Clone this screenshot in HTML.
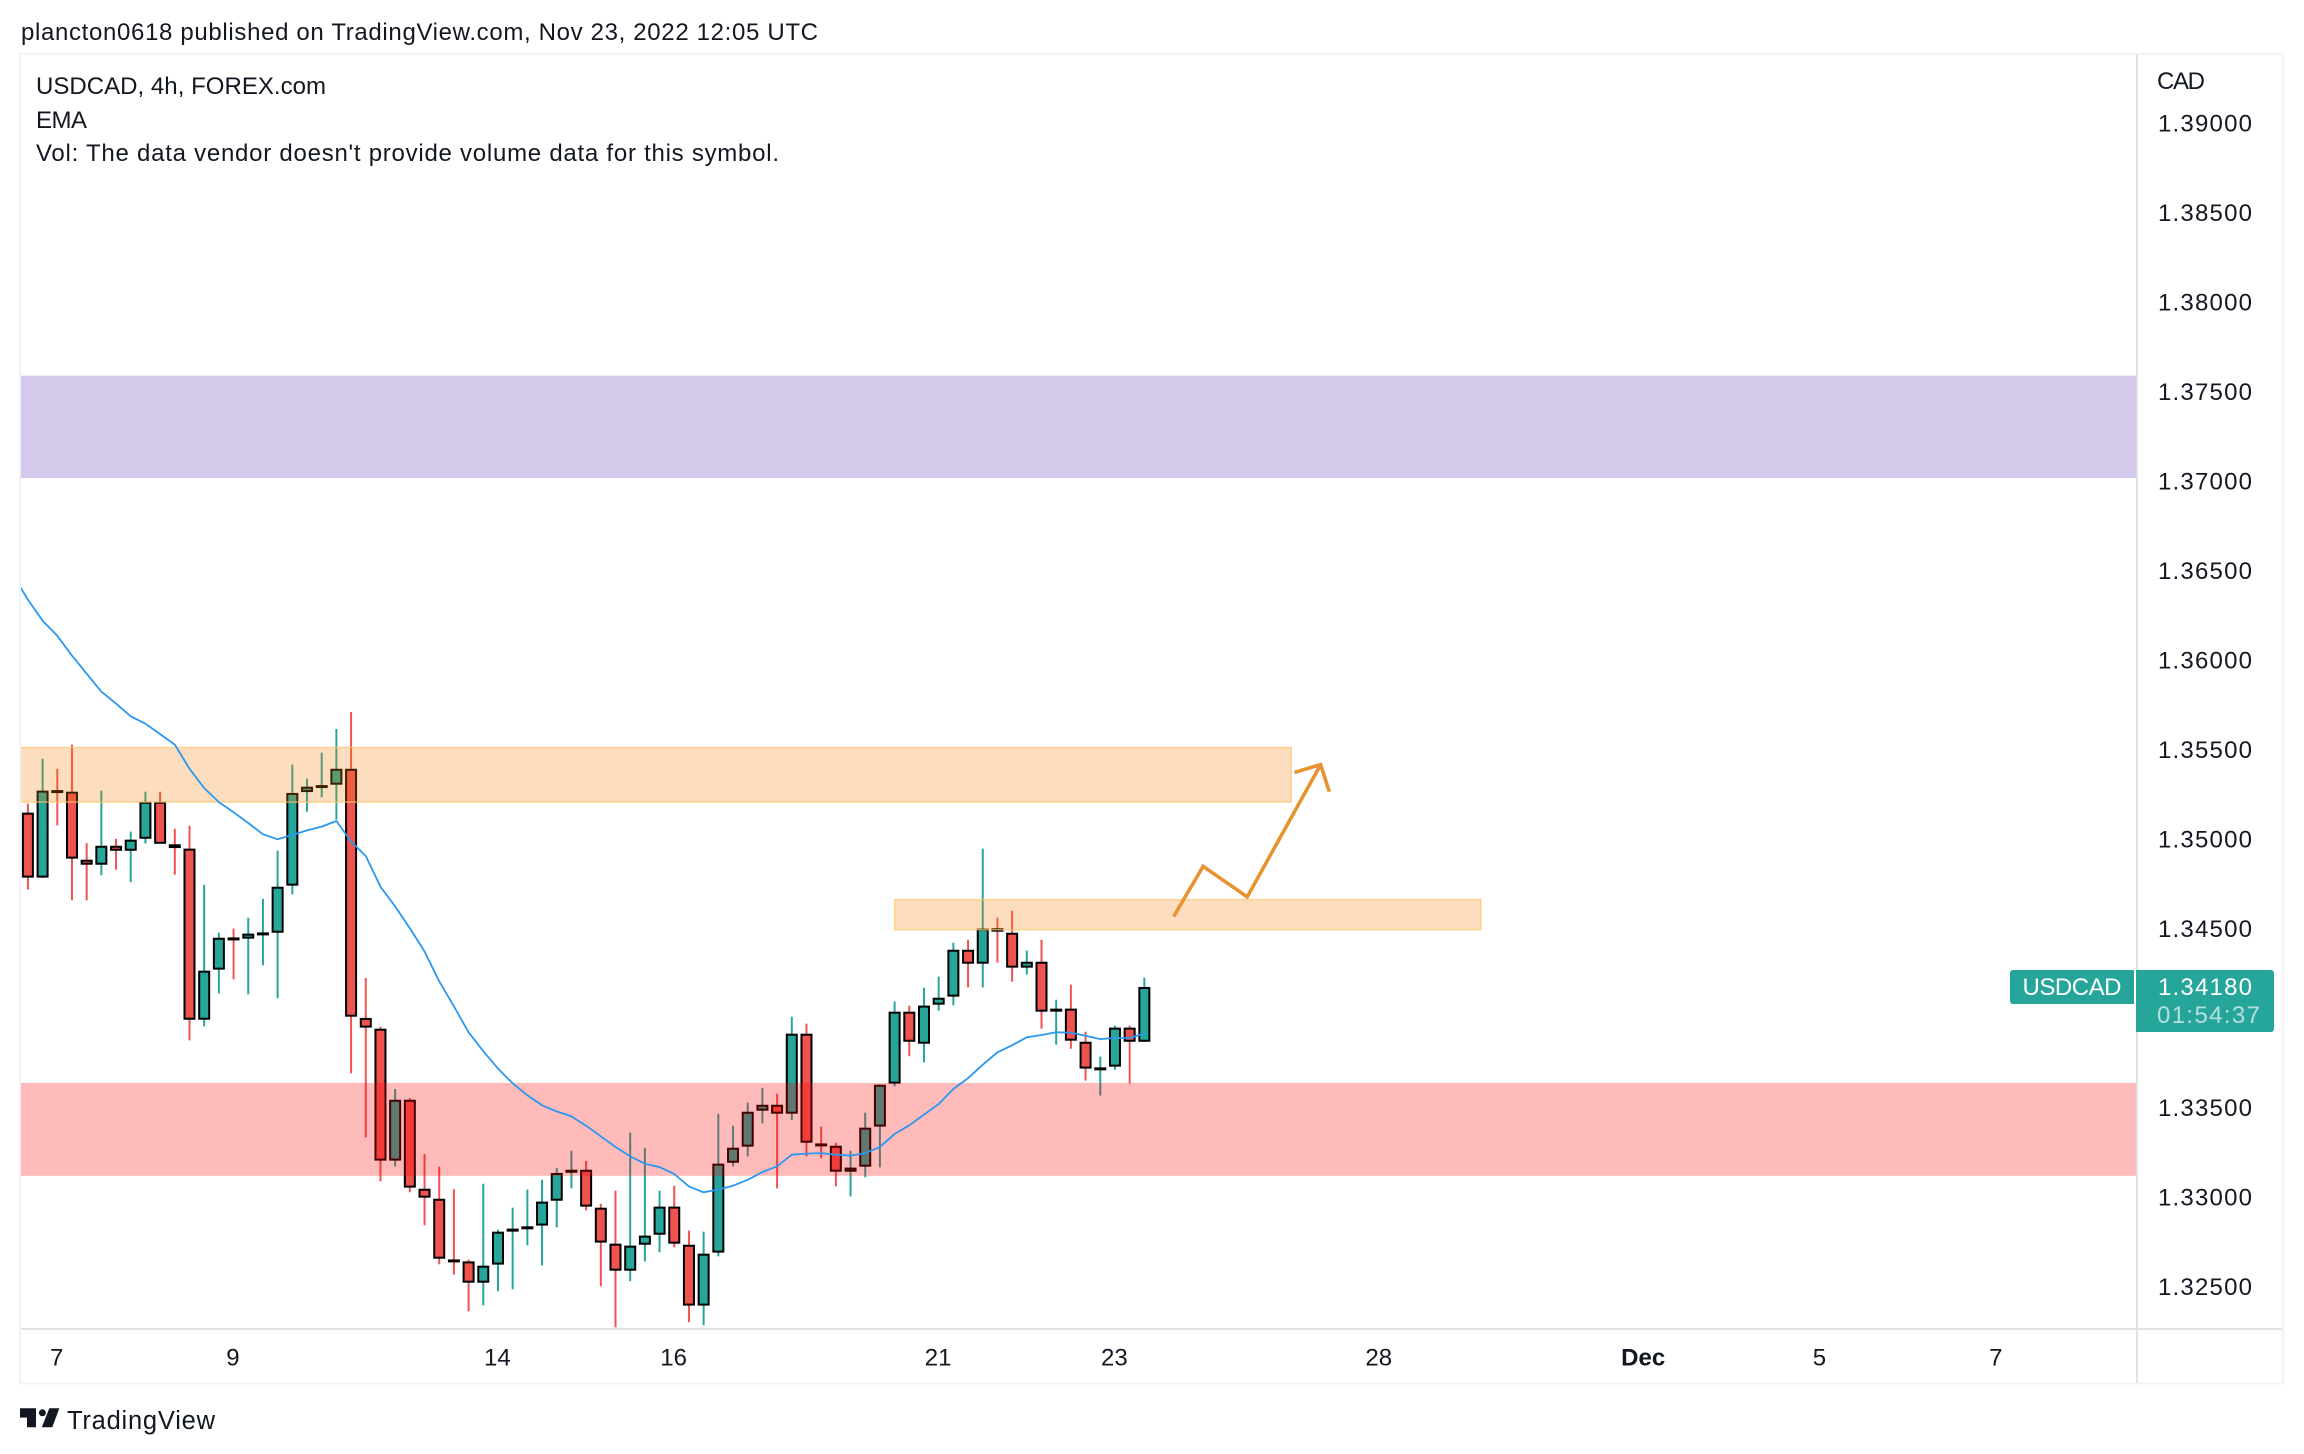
<!DOCTYPE html>
<html lang="en">
<head>
<meta charset="utf-8">
<title>USDCAD 4h chart</title>
<style>
html,body{margin:0;padding:0;background:#fff;width:2304px;height:1454px;overflow:hidden}
svg{display:block;font-family:"Liberation Sans",sans-serif}
</style>
</head>
<body>
<svg id="chart" xmlns="http://www.w3.org/2000/svg" width="2304" height="1454" viewBox="0 0 2304 1454">
  <defs><clipPath id="pane"><rect x="21" y="55" width="2115" height="1273"/></clipPath></defs>
  <rect x="0" y="0" width="2304" height="1454" fill="#ffffff"/>
  <text x="21" y="40" font-size="24" fill="#131722" textLength="797" lengthAdjust="spacing">plancton0618 published on TradingView.com, Nov 23, 2022 12:05 UTC</text>
  <rect x="20" y="54" width="2263" height="1329.5" fill="none" stroke="#f0f3fa" stroke-width="2"/>
  <g id="candles" clip-path="url(#pane)"></g>
  <g id="zones" clip-path="url(#pane)"></g>
  <g id="overlay" clip-path="url(#pane)"></g>
  <line x1="2137" y1="55" x2="2137" y2="1383" stroke="#e0e1e5" stroke-width="2"/>
  <line x1="21" y1="1329" x2="2282" y2="1329" stroke="#e0e1e5" stroke-width="2"/>
  <text x="36" y="94" font-size="24" fill="#131722" textLength="290" lengthAdjust="spacing">USDCAD, 4h, FOREX.com</text>
  <text x="36" y="128" font-size="24" fill="#131722" textLength="51" lengthAdjust="spacing">EMA</text>
  <text x="36" y="161" font-size="24" fill="#131722" textLength="743" lengthAdjust="spacing">Vol: The data vendor doesn't provide volume data for this symbol.</text>
  <text x="2157" y="89" font-size="24" fill="#131722" textLength="48" lengthAdjust="spacing">CAD</text>
  <g id="price-axis"></g>
  <g id="time-axis"></g>
  <g id="last-price"></g>
  <g fill="#131722">
    <path d="M20 1408.3H36V1427.3H27V1417.6H20ZM49.3 1408.3H59.3L52.3 1427.3H41.8Z"/>
    <circle cx="42.4" cy="1412.8" r="3.5"/>
    <text x="67" y="1429" font-size="25.5" textLength="148" lengthAdjust="spacing">TradingView</text>
  </g>
</svg>
<script>
const opens = [1.35154,1.34791,1.35280,1.35271,1.34891,1.34863,1.34969,1.34941,1.35008,1.35215,1.34977,1.34953,1.33997,1.34277,1.34457,1.34450,1.34478,1.34483,1.34746,1.35269,1.35301,1.35310,1.35399,1.34007,1.33947,1.33210,1.33550,1.33053,1.32997,1.32658,1.32647,1.32528,1.32629,1.32820,1.32835,1.32847,1.32986,1.33148,1.33159,1.32947,1.32746,1.32595,1.32740,1.32796,1.32953,1.32740,1.32400,1.32696,1.33198,1.33288,1.33489,1.33522,1.33472,1.33919,1.33306,1.33293,1.33148,1.33176,1.33400,1.33640,1.34042,1.33863,1.34081,1.34126,1.34388,1.34310,1.34508,1.34483,1.34288,1.34321,1.34042,1.34059,1.33874,1.33724,1.33735,1.33953,1.33874];
const highs = [1.35204,1.35455,1.35399,1.35534,1.34984,1.35277,1.35008,1.35048,1.35271,1.35271,1.35064,1.35081,1.34751,1.34483,1.34506,1.34567,1.34673,1.34941,1.35422,1.35344,1.35489,1.35621,1.35716,1.34230,1.33958,1.33610,1.33560,1.33247,1.33176,1.33051,1.32657,1.33081,1.32824,1.32947,1.33048,1.33103,1.33169,1.33265,1.33208,1.32969,1.33042,1.33366,1.33282,1.33042,1.33070,1.32819,1.32813,1.33472,1.33405,1.33534,1.33617,1.33584,1.34014,1.33975,1.33400,1.33310,1.33265,1.33478,1.33634,1.34098,1.34076,1.34176,1.34238,1.34427,1.34444,1.34953,1.34567,1.34606,1.34383,1.34444,1.34109,1.34193,1.33930,1.33791,1.33964,1.33964,1.34232];
const lows = [1.34724,1.34789,1.35083,1.34664,1.34664,1.34804,1.34835,1.34765,1.34982,1.34980,1.34807,1.33882,1.33960,1.34144,1.34223,1.34139,1.34301,1.34117,1.34697,1.35159,1.35239,1.35115,1.33698,1.33340,1.33094,1.33178,1.33033,1.32848,1.32631,1.32573,1.32368,1.32401,1.32480,1.32491,1.32737,1.32625,1.32837,1.33055,1.32932,1.32508,1.32279,1.32536,1.32647,1.32698,1.32725,1.32307,1.32290,1.32675,1.33178,1.33234,1.33418,1.33055,1.33437,1.33234,1.33223,1.33066,1.33010,1.33117,1.33172,1.33625,1.33793,1.33759,1.34048,1.34077,1.34178,1.34178,1.34316,1.34210,1.34249,1.33947,1.33858,1.33835,1.33657,1.33573,1.33718,1.33640,1.33874];
const closes = [1.34791,1.35277,1.35273,1.34897,1.34863,1.34969,1.34941,1.35003,1.35215,1.34980,1.34956,1.33997,1.34271,1.34455,1.34450,1.34478,1.34485,1.34740,1.35264,1.35299,1.35308,1.35399,1.34014,1.33953,1.33210,1.33550,1.33059,1.33003,1.32662,1.32651,1.32528,1.32623,1.32813,1.32830,1.32843,1.32981,1.33141,1.33159,1.32953,1.32752,1.32595,1.32735,1.32791,1.32953,1.32746,1.32400,1.32690,1.33193,1.33282,1.33483,1.33522,1.33472,1.33919,1.33310,1.33299,1.33148,1.33171,1.33394,1.33634,1.34042,1.33874,1.34076,1.34120,1.34388,1.34310,1.34506,1.34489,1.34288,1.34321,1.34042,1.34059,1.33880,1.33724,1.33731,1.33953,1.33874,1.34180];
const ema = [1.36478,1.36344,1.36226,1.36142,1.36031,1.35930,1.35830,1.35763,1.35692,1.35651,1.35593,1.35534,1.35399,1.35291,1.35213,1.35156,1.35096,1.35033,1.35005,1.35029,1.35055,1.35076,1.35107,1.34992,1.34912,1.34740,1.34630,1.34509,1.34379,1.34212,1.34072,1.33927,1.33821,1.33724,1.33642,1.33575,1.33519,1.33485,1.33457,1.33405,1.33346,1.33286,1.33234,1.33193,1.33174,1.33135,1.33066,1.33033,1.33048,1.33070,1.33103,1.33146,1.33178,1.33243,1.33249,1.33252,1.33243,1.33238,1.33252,1.33286,1.33359,1.33407,1.33467,1.33526,1.33610,1.33671,1.33746,1.33815,1.33854,1.33899,1.33912,1.33927,1.33925,1.33908,1.33889,1.33895,1.33895,1.33921];
const priceTicks = ["1.39000","1.38500","1.38000","1.37500","1.37000","1.36500","1.36000","1.35500","1.35000","1.34500","1.34000","1.33500","1.33000","1.32500"];
const timeTickBars = [2,14,32,44,62,74,92,110,122,134];
const timeTickLabels = ["7","9","14","16","21","23","28","Dec","5","7"];
const purpleZonePrices = [1.37595,1.37023];
const orangeUpperZonePrices = [1.35518,1.35213];
const orangeUpperZoneBars = [-3,86];
const orangeLowerZonePrices = [1.34668,1.34500];
const orangeLowerZoneBars = [59,98.9];
const pinkZonePrices = [1.33644,1.33125];
const pathBars = [78,80,83,88];
const pathPrices = [1.34574,1.34854,1.34683,1.35422];

const NS = 'http://www.w3.org/2000/svg';
function xScale(i){ return 27.9 + 14.69 * i; }
function yScale(p){ return 929.7 - (p - 1.345) * 17900; }
function make(tag, attrs, parent){
  const el = document.createElementNS(NS, tag);
  for (const k in attrs) el.setAttribute(k, attrs[k]);
  parent.appendChild(el);
  return el;
}
const UP = '#26a69a', DOWN = '#ef5350';
const candleLayer = document.getElementById('candles');
for (let i = 0; i < opens.length; i++) {
  const col = closes[i] >= opens[i] ? UP : DOWN;
  const cx = xScale(i);
  const g = make('g', {}, candleLayer);
  
  
  const wick = make('line', {x1:cx, x2:cx, y1:yScale(highs[i]), y2:yScale(lows[i]), stroke:col, 'stroke-width':2}, g);
  
  
  const top = yScale(Math.max(opens[i], closes[i]));
  const bot = yScale(Math.min(opens[i], closes[i]));
  const h = Math.max(bot - top, 3);
  const outer = make('rect', {x:cx - 6, y:top, width:12, height:h, fill:'#000000'}, g);
  
  
  if (h > 4) {
    const inner = make('rect', {x:cx - 4, y:top + 2, width:8, height:h - 4, fill:col}, g);
    
    
  }
}
const zoneLayer = document.getElementById('zones');
const purple = make('rect', {x:21, width:2115, y:yScale(purpleZonePrices[0]), height:yScale(purpleZonePrices[1]) - yScale(purpleZonePrices[0]), fill:'rgba(103,58,183,.276)'}, zoneLayer);


const ou = make('rect', {x:xScale(orangeUpperZoneBars[0]), width:xScale(orangeUpperZoneBars[1]) - xScale(orangeUpperZoneBars[0]), y:yScale(orangeUpperZonePrices[0]), height:yScale(orangeUpperZonePrices[1]) - yScale(orangeUpperZonePrices[0]), fill:'rgba(245,124,0,.25)', stroke:'rgba(255,196,110,.7)', 'stroke-width':1.5}, zoneLayer);


const ol = make('rect', {x:xScale(orangeLowerZoneBars[0]), width:xScale(orangeLowerZoneBars[1]) - xScale(orangeLowerZoneBars[0]), y:yScale(orangeLowerZonePrices[0]), height:yScale(orangeLowerZonePrices[1]) - yScale(orangeLowerZonePrices[0]), fill:'rgba(245,124,0,.25)', stroke:'rgba(255,196,110,.7)', 'stroke-width':1.5}, zoneLayer);


const pink = make('rect', {x:21, width:2115, y:yScale(pinkZonePrices[0]), height:yScale(pinkZonePrices[1]) - yScale(pinkZonePrices[0]), fill:'rgba(255,0,0,.27)'}, zoneLayer);



const overlay = document.getElementById('overlay');
const emaPts = ema.map(function(v, k){ return xScale(k - 1).toFixed(1) + ',' + yScale(v).toFixed(1); }).join(' ');
const emaLine = make('polyline', {points:emaPts, fill:'none', stroke:'#2a98f0', 'stroke-width':1.8, 'stroke-linejoin':'round'}, overlay);


const pathPts = pathBars.map(function(b, k){ return xScale(b).toFixed(1) + ',' + yScale(pathPrices[k]).toFixed(1); }).join(' ');
const projPath = make('polyline', {points:pathPts, fill:'none', stroke:'#e89331', 'stroke-width':3.6, 'stroke-linejoin':'miter'}, overlay);


const tipX = xScale(pathBars[3]), tipY = yScale(pathPrices[3]);
const head = make('polyline', {points:(tipX - 26) + ',' + (tipY + 7.7) + ' ' + tipX + ',' + tipY + ' ' + (tipX + 8.7) + ',' + (tipY + 27), fill:'none', stroke:'#e89331', 'stroke-width':3.6}, overlay);



const priceAxis = document.getElementById('price-axis');
priceTicks.forEach(function(label){
  const t = make('text', {x:2158, y:yScale(parseFloat(label)) + 7.4, 'font-size':24, fill:'#131722', textLength:94, lengthAdjust:'spacing'}, priceAxis);
  
  
  t.textContent = label;
});
const timeAxis = document.getElementById('time-axis');
timeTickLabels.forEach(function(label, k){
  const t = make('text', {x:xScale(timeTickBars[k]) - 0.6, y:1365.5, 'font-size':24, fill:'#131722', 'text-anchor':'middle', 'font-weight':label === 'Dec' ? 'bold' : 'normal'}, timeAxis);
  
  
  t.textContent = label;
});
const lastLayer = document.getElementById('last-price');
const lastClose = closes[closes.length - 1];
const ly = yScale(lastClose);
const symTag = make('path', {d:'M2134 ' + (ly - 17) + 'V' + (ly + 17) + 'H2013a3 3 0 0 1-3-3V' + (ly - 14) + 'a3 3 0 0 1 3-3Z', fill:UP}, lastLayer);


const symText = make('text', {x:2072, y:ly + 7.8, 'font-size':24, fill:'#ffffff', 'text-anchor':'middle', textLength:99, lengthAdjust:'spacing'}, lastLayer);


symText.textContent = 'USDCAD';
const priceTag = make('path', {d:'M2136 ' + (ly - 17) + 'H2271a3 3 0 0 1 3 3V' + (ly + 42) + 'a3 3 0 0 1-3 3H2136Z', fill:UP}, lastLayer);


const priceText = make('text', {x:2158, y:ly + 7.8, 'font-size':24, fill:'#ffffff', textLength:94, lengthAdjust:'spacing'}, lastLayer);


priceText.textContent = lastClose.toFixed(5);
const countdown = make('text', {x:2157, y:ly + 36, 'font-size':24, fill:'rgba(255,255,255,.65)', textLength:103, lengthAdjust:'spacing'}, lastLayer);


countdown.textContent = '01:54:37';
</script>
</body>
</html>
